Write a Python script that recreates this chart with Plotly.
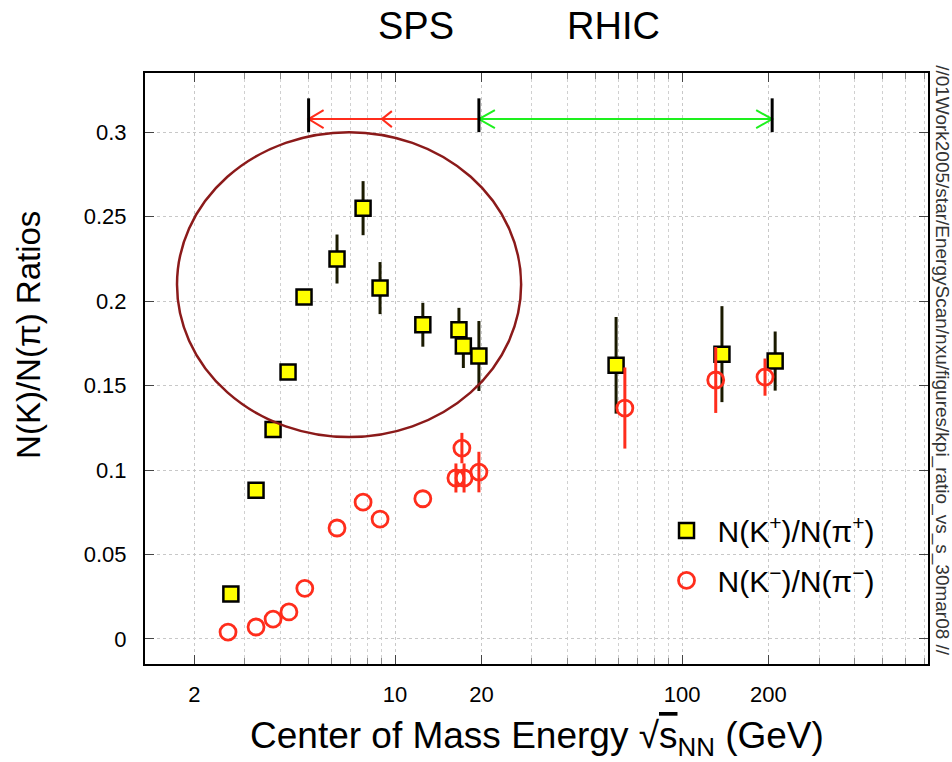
import math
import plotly.graph_objects as go

# ---------------- data ----------------
kplus_energy = [2.68, 3.28, 3.76, 4.24, 4.82, 6.28, 7.74, 8.87, 12.5, 16.7, 17.3, 19.6, 58.9, 137.7, 211]
kplus_ratio = [0.0266, 0.088, 0.124, 0.158, 0.2024, 0.2249, 0.255, 0.2077, 0.186, 0.183, 0.1734, 0.1675, 0.162, 0.1686, 0.1645]
kplus_err = [0, 0, 0, 0, 0, 0.0145, 0.016, 0.0154, 0.013, 0.013, 0.013, 0.0207, 0.0286, 0.0284, 0.0175]

kminus_energy = [2.62, 3.28, 3.76, 4.27, 4.85, 6.28, 7.74, 8.87, 12.5, 16.3, 17.1, 17.4, 19.6, 63.2, 131, 194.5]
kminus_ratio = [0.0041, 0.0071, 0.0118, 0.016, 0.030, 0.0657, 0.081, 0.071, 0.083, 0.0953, 0.113, 0.0953, 0.0988, 0.1367, 0.1533, 0.155]
kminus_err = [0, 0, 0, 0, 0, 0, 0, 0, 0, 0.0086, 0.009, 0.0086, 0.012, 0.024, 0.0195, 0.011]

x_tick_vals = [2, 10, 20, 100, 200]
x_tick_text = ["2", "10", "20", "100", "200"]
x_minor_vals = [3, 4, 5, 6, 7, 8, 9, 30, 40, 50, 60, 70, 80, 90, 300, 400, 500, 600, 700]
y_tick_vals = [0, 0.05, 0.1, 0.15, 0.2, 0.25, 0.3]
y_tick_text = ["0", "0.05", "0.1", "0.15", "0.2", "0.25", "0.3"]

# SPS / RHIC energy-range markers
range_bar_energy = [5.0, 19.6, 206]
sps_mid_arrow_energy = 9.0

X_RANGE = [1.346, 719]
Y_RANGE = [-0.0148, 0.335]

FONT = "Liberation Sans, Arial, Helvetica, sans-serif"
RED = "#ff2d1c"
GREEN = "#1ef01e"

LX0, LX1 = math.log10(X_RANGE[0]), math.log10(X_RANGE[1])


def xp(v):
    return (math.log10(v) - LX0) / (LX1 - LX0)


def yp(v):
    return (v - Y_RANGE[0]) / (Y_RANGE[1] - Y_RANGE[0])


fig = go.Figure()

fig.add_trace(go.Scatter(
    x=kplus_energy, y=kplus_ratio, mode="markers",
    name="N(K<sup>+</sup>)/N(π<sup>+</sup>)", legendgroup="a",
    marker=dict(symbol="square", size=15, color="#ffff00",
                line=dict(color="black", width=2.5)),
    error_y=dict(type="data", array=kplus_err, visible=True,
                 color="#1a1a00", thickness=3, width=0),
))
fig.add_trace(go.Scatter(
    x=kminus_energy, y=kminus_ratio, mode="markers",
    name="N(K<sup>−</sup>)/N(π<sup>−</sup>)", legendgroup="b",
    marker=dict(symbol="circle-open", size=16, color=RED,
                line=dict(color=RED, width=2.8)),
    error_y=dict(type="data", array=kminus_err, visible=True,
                 color=RED, thickness=3, width=0),
))

shapes = []
# ellipse highlight
shapes.append(dict(type="circle", xref="paper", yref="paper",
                   x0=xp(1.74), x1=xp(27.5), y0=yp(0.1195), y1=yp(0.300),
                   line=dict(color="#8b1a1a", width=2.5), layer="above"))

arrow_y = 0.3077
# horizontal arrows
shapes.append(dict(type="line", xref="paper", yref="paper",
                   x0=xp(range_bar_energy[0]), x1=xp(range_bar_energy[1]),
                   y0=yp(arrow_y), y1=yp(arrow_y), line=dict(color=RED, width=2)))
shapes.append(dict(type="line", xref="paper", yref="paper",
                   x0=xp(range_bar_energy[1]), x1=xp(range_bar_energy[2]),
                   y0=yp(arrow_y), y1=yp(arrow_y), line=dict(color=GREEN, width=2)))


def head(xv, path, color):
    return dict(type="path", xref="paper", yref="paper",
                xsizemode="pixel", ysizemode="pixel",
                xanchor=xp(xv), yanchor=yp(arrow_y), path=path,
                line=dict(color=color, width=2))


shapes.append(head(range_bar_energy[0], "M 15,9 L 0,0 L 15,-9", RED))
shapes.append(head(sps_mid_arrow_energy, "M 10,8 L 0,0 L 10,-8", RED))
shapes.append(head(range_bar_energy[1], "M 16,9 L 0,0 L 16,-9", GREEN))
shapes.append(head(range_bar_energy[2], "M -16,9 L 0,0 L -16,-9", GREEN))

# vertical bars
for e in range_bar_energy:
    shapes.append(dict(type="line", xref="paper", yref="paper",
                       x0=xp(e), x1=xp(e), y0=yp(0.300), y1=yp(0.320),
                       line=dict(color="black", width=3)))

annotations = [
    dict(text="SPS", x=0.346, y=1.0795, xref="paper", yref="paper",
         showarrow=False, font=dict(family=FONT, size=38, color="black"),
         xanchor="center", yanchor="middle"),
    dict(text="RHIC", x=0.598, y=1.0795, xref="paper", yref="paper",
         showarrow=False, font=dict(family=FONT, size=38, color="black"),
         xanchor="center", yanchor="middle"),
    dict(text="N(K)/N(π) Ratios", x=-0.148, y=0.557, xref="paper", yref="paper",
         showarrow=False, textangle=-90, font=dict(family=FONT, size=33, color="black"),
         xanchor="center", yanchor="middle"),
    dict(text="Center of Mass Energy √<span style='text-decoration:overline'>s</span><sub>NN</sub> (GeV)",
         x=0.5, y=-0.125, xref="paper", yref="paper",
         showarrow=False, font=dict(family=FONT, size=37, color="black"),
         xanchor="center", yanchor="middle"),
    dict(text="//01Work2005/star/EnergyScan/nxu/figures/kpi_ratio_vs_s_30mar08 //",
         x=1.018, y=0.514, xref="paper", yref="paper",
         showarrow=False, textangle=90, font=dict(family=FONT, size=19, color="#333333"),
         xanchor="center", yanchor="middle"),
]

fig.update_layout(
    width=952, height=762,
    margin=dict(l=145, r=24, t=73, b=98),
    paper_bgcolor="white", plot_bgcolor="white",
    font=dict(family=FONT, color="black"),
    shapes=shapes, annotations=annotations,
    showlegend=True,
    legend=dict(x=0.652, y=0.27, xanchor="left", yanchor="top",
                bgcolor="rgba(255,255,255,0)", font=dict(family=FONT, size=30),
                tracegroupgap=8, itemwidth=52),
)

fig.update_xaxes(
    type="log", range=[LX0, LX1],
    tickvals=x_tick_vals, ticktext=x_tick_text,
    tickfont=dict(family=FONT, size=22),
    showline=True, linecolor="black", linewidth=2, mirror="allticks",
    ticks="inside", ticklen=9, tickcolor="#444444", tickwidth=1,
    showgrid=True, gridcolor="#c8c8c8", griddash="dot", gridwidth=1,
    ticklabelstandoff=10,
    minor=dict(tickvals=x_minor_vals, ticks="inside", ticklen=6, tickcolor="#888888",
               showgrid=True, gridcolor="#d0d0d0", griddash="dot", gridwidth=1),
    zeroline=False,
)
fig.update_yaxes(
    range=Y_RANGE, tickvals=y_tick_vals, ticktext=y_tick_text,
    tickfont=dict(family=FONT, size=22),
    showline=True, linecolor="black", linewidth=2, mirror="allticks",
    ticks="inside", ticklen=9, tickcolor="#444444", tickwidth=1,
    showgrid=True, gridcolor="#c8c8c8", griddash="dot", gridwidth=1,
    ticklabelstandoff=12,
    zeroline=False,
)

fig.write_html("out.html")
